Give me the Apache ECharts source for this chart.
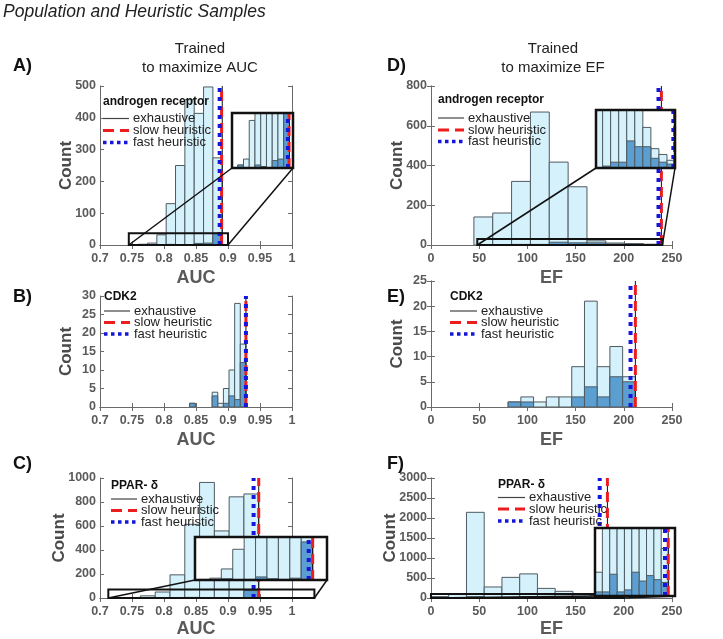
<!DOCTYPE html>
<html><head><meta charset="utf-8">
<script src="https://cdn.jsdelivr.net/npm/echarts@6/dist/echarts.min.js"></script>
<style>html,body{margin:0;padding:0;background:#fff}#c{width:723px;height:639px}</style>
</head><body><div id="c"></div>
<script>
// ---------------- DATA ----------------
// Panel A: androgen receptor, trained to maximize AUC
const edgesA = [0.745, 0.7596, 0.7742, 0.7888, 0.8034, 0.818, 0.8326, 0.8472, 0.8618, 0.8764, 0.891];
const popA   = [0, 2, 6, 32, 130, 250, 457, 414, 497, 274];
const heurA  = [0, 2, 0, 0, 2, 1, 0, 5, 6, 37];
const linesA = [0.891, 0.890, 0.887];          // exhaustive, slow heuristic, fast heuristic
// Panel B: CDK2, AUC
const edgesB = [0.84, 0.8488, 0.8576, 0.8664, 0.8752, 0.884, 0.8928, 0.9016, 0.9104, 0.9192, 0.928];
const popB   = [1, 0, 0, 0, 4, 1, 5, 10, 28, 17];
const heurB  = [1, 0, 0, 0, 3, 0, 1, 3, 2, 12];
const linesB = [0.928, 0.928, 0.928];
// Panel C: PPAR-delta, AUC
const edgesC = [0.717, 0.7401, 0.7632, 0.7863, 0.8094, 0.8325, 0.8556, 0.8787, 0.9018, 0.9249, 0.948];
const popC   = [1, 3, 18, 50, 193, 614, 963, 559, 843, 867];
const heurC  = [0, 0, 2, 0, 1, 5, 2, 1, 3, 62];
const linesC = [0.948, 0.948, 0.940];
// Panel D: androgen receptor, trained to maximize EF
const edgesD = [44.5, 64.05, 83.6, 103.15, 122.7, 142.25, 161.8, 181.35, 200.9, 220.45, 240];
const popD   = [141, 161, 320, 669, 417, 293, 21, 10, 7, 4];
const heurD  = [0, 1, 3, 3, 14, 11, 11, 5, 3, 2];
const linesD = [239, 239, 236];
// Panel E: CDK2, EF
const edgesE = [80, 93.2, 106.4, 119.6, 132.8, 146, 159.2, 172.4, 185.6, 198.8, 212];
const popE   = [1, 2, 1, 2, 2, 8, 21, 8, 12, 6];
const heurE  = [1, 1, 0, 0, 0, 2, 4, 2, 6, 5];
const linesE = [212, 212, 207];
// Panel F: PPAR-delta, EF
const edgesF = [0, 18.4, 36.8, 55.2, 73.6, 92, 110.4, 128.8, 147.2, 165.6, 184];
const popF   = [35, 110, 2142, 276, 516, 603, 240, 167, 105, 70];
const heurF  = [6, 6, 32, 6, 9, 35, 22, 30, 24, 20];
const linesF = [183, 183, 175];
// zoom boxes drawn on the main plots [xmin, xmax, ymax] and ranges shown in the insets
const boxA = [0.745, 0.9, 37],   viewA = [0.745, 0.9, 37];
const boxC = [0.713, 1.035, 70], viewC = [0.71, 0.977, 70];
const boxD = [48, 240, 30],      viewD = [48, 240, 30];
const boxF = [0, 200, 100],      viewF = [0, 200, 100];

const seriesNames = ['exhaustive', 'slow heuristic', 'fast heuristic'];
const targets = ['androgen receptor', 'CDK2', 'PPAR- \u03b4'];

// ---------------- LAYOUT / STYLE ----------------
const FONT = 'Liberation Sans, Arial, Helvetica, sans-serif';
const LIGHT = '#d5f1fb', DARK = '#5b9ed2', EDGE = '#4f5b61';
const lineStyles = [
  {color: '#111', width: 1, type: 'solid'},
  {color: '#ee1d1d', width: 3, type: [10, 6]},
  {color: '#1515dc', width: 4, type: [4, 5]}
];
const legDash = [null, [11, 6], [3.5, 3.5]];
const legWidth = [1.2, 3, 3.5];

const panels = [
  {tag:'A)', t:0, edges:edgesA, pop:popA, heur:heurA, lines:linesA, x:[0.7,1,0.05], y:[0,500,100], xname:'AUC',
   grid:{left:100, top:86, width:192, height:159}, box:boxA, view:viewA, inset:{left:232, top:113, width:61, height:55},
   leg:{x:103, ty:102, iy:[118.5, 130.5, 142.5], iw:26}},
  {tag:'B)', t:1, edges:edgesB, pop:popB, heur:heurB, lines:linesB, x:[0.7,1,0.05], y:[0,30,5], xname:'AUC',
   grid:{left:100, top:296, width:192, height:111}, box:null,
   leg:{x:104, ty:297, iy:[311, 322.5, 334], iw:26}},
  {tag:'C)', t:2, edges:edgesC, pop:popC, heur:heurC, lines:linesC, x:[0.7,1,0.05], y:[0,1000,200], xname:'AUC',
   grid:{left:100, top:478, width:192, height:127}, box:boxC, view:viewC, inset:{left:195, top:537, width:132, height:43},
   leg:{x:111, ty:486, iy:[499, 510.5, 522], iw:26}},
  {tag:'D)', t:0, edges:edgesD, pop:popD, heur:heurD, lines:linesD, x:[0,250,50], y:[0,800,200], xname:'EF',
   grid:{left:431, top:86, width:241, height:159}, box:boxD, view:viewD, inset:{left:596, top:110, width:79, height:58},
   leg:{x:438, ty:100, iy:[118, 130, 141.5], iw:26}},
  {tag:'E)', t:1, edges:edgesE, pop:popE, heur:heurE, lines:linesE, x:[0,250,50], y:[0,25,5], xname:'EF',
   grid:{left:431, top:281, width:241, height:126}, box:null,
   leg:{x:450, ty:297, iy:[311, 322.5, 334], iw:27}},
  {tag:'F)', t:2, edges:edgesF, pop:popF, heur:heurF, lines:linesF, x:[0,250,50], y:[0,3000,500], xname:'EF',
   grid:{left:431, top:478, width:241, height:127}, box:boxF, view:viewF, inset:{left:595, top:528, width:80, height:68},
   leg:{x:498, ty:485, iy:[497.5, 509, 521], iw:27}}
];

function histData(edges, counts) {
  return counts.map((c, i) => [edges[i], edges[i + 1], c]);
}
function histRender(fill) {
  return function (params, api) {
    const c = api.value(2);
    if (!c) return null;
    const p0 = api.coord([api.value(0), 0]);
    const p1 = api.coord([api.value(1), c]);
    return {type: 'rect', shape: {x: p0[0], y: p1[1], width: p1[0] - p0[0], height: p0[1] - p1[1]},
            style: {fill: fill, stroke: EDGE, lineWidth: 1}};
  };
}

const grid = [], xAxis = [], yAxis = [], series = [];
const axisCol = '#6a6a6a';
const lblStyle = {fontFamily: FONT, fontSize: 12.5, fontWeight: 'bold', color: '#5a5a5a'};

panels.forEach((p, k) => {
  grid.push(Object.assign({containLabel: false}, p.grid));
  const xi = xAxis.length, yi = yAxis.length;
  const big = p.y[1] >= 1000;
  xAxis.push({gridIndex: k, type: 'value', min: p.x[0], max: p.x[1], interval: p.x[2], position: 'bottom',
    name: p.xname, nameLocation: 'middle', nameGap: big ? 22 : 24, nameMoveOverlap: false,
    nameTextStyle: {fontFamily: FONT, fontSize: 18, fontWeight: 'bold', color: '#5a5a5a'},
    axisLine: {lineStyle: {color: axisCol}}, axisTick: {inside: true, length: 4, lineStyle: {color: axisCol}},
    axisLabel: Object.assign({margin: 7, formatter: v => String(v)}, lblStyle), splitLine: {show: false}});
  xAxis.push({gridIndex: k, type: 'value', min: p.x[0], max: p.x[1], interval: p.x[2], position: 'top',
    axisLine: {show: true, lineStyle: {color: axisCol}}, axisTick: {inside: true, length: 4, lineStyle: {color: axisCol}},
    axisLabel: {show: false}, splitLine: {show: false}});
  yAxis.push({gridIndex: k, type: 'value', min: p.y[0], max: p.y[1], interval: p.y[2], position: 'left',
    name: 'Count', nameLocation: 'middle', nameGap: big ? 32 : 25, nameMoveOverlap: false,
    nameTextStyle: {fontFamily: FONT, fontSize: 17, fontWeight: 'bold', color: '#4a4a4a'},
    axisLine: {show: true, lineStyle: {color: axisCol}}, axisTick: {show: true, inside: true, length: 4, lineStyle: {color: axisCol}},
    axisLabel: Object.assign({margin: 4, formatter: v => String(v)}, lblStyle), splitLine: {show: false}});
  yAxis.push({gridIndex: k, type: 'value', min: p.y[0], max: p.y[1], interval: p.y[2], position: 'right',
    axisLine: {show: true, lineStyle: {color: axisCol}}, axisTick: {show: true, inside: true, length: 4, lineStyle: {color: axisCol}},
    axisLabel: {show: false}, splitLine: {show: false}});

  series.push({type: 'custom', name: 'population', xAxisIndex: xi, yAxisIndex: yi, clip: true, z: 2,
    renderItem: histRender(LIGHT), encode: {x: [0, 1], y: 2}, data: histData(p.edges, p.pop), silent: true});
  series.push({type: 'custom', name: 'heuristic samples', xAxisIndex: xi, yAxisIndex: yi, clip: true, z: 3,
    renderItem: histRender(DARK), encode: {x: [0, 1], y: 2}, data: histData(p.edges, p.heur), silent: true});
  p.lines.forEach((v, j) => {
    series.push({type: 'line', name: seriesNames[j], xAxisIndex: xi, yAxisIndex: yi, z: 4 + j,
      symbol: 'none', silent: true, lineStyle: lineStyles[j], itemStyle: {color: lineStyles[j].color},
      data: [[v, p.y[0]], [v, p.y[1]]]});
  });
  if (p.box) {
    series.push({type: 'custom', name: 'zoom box', xAxisIndex: xi, yAxisIndex: yi, clip: false, z: 8, silent: true,
      renderItem: function (params, api) {
        const a = api.coord([api.value(0), 0]), b = api.coord([api.value(1), api.value(2)]);
        return {type: 'rect', shape: {x: a[0], y: b[1], width: b[0] - a[0], height: a[1] - b[1]},
                style: {fill: null, stroke: '#111', lineWidth: 2}};
      }, encode: {x: [0, 1], y: 2}, data: [[p.box[0], p.box[1], p.box[2]]]});
  }
});

// inset grids
panels.forEach((p, k) => {
  if (!p.box) return;
  const gi = grid.length;
  grid.push(Object.assign({show: true, backgroundColor: '#fff', borderWidth: 0, z: 20}, p.inset));
  const xi = xAxis.length, yi = yAxis.length;
  xAxis.push({gridIndex: gi, type: 'value', min: p.view[0], max: p.view[1], show: false, z: 20});
  yAxis.push({gridIndex: gi, type: 'value', min: 0, max: p.view[2], show: false, z: 20});
  p.gi = gi;
  series.push({type: 'custom', name: 'population', xAxisIndex: xi, yAxisIndex: yi, clip: true, z: 21,
    renderItem: histRender(LIGHT), encode: {x: [0, 1], y: 2}, data: histData(p.edges, p.pop), silent: true});
  series.push({type: 'custom', name: 'heuristic samples', xAxisIndex: xi, yAxisIndex: yi, clip: true, z: 22,
    renderItem: histRender(DARK), encode: {x: [0, 1], y: 2}, data: histData(p.edges, p.heur), silent: true});
  p.lines.forEach((v, j) => {
    series.push({type: 'line', name: seriesNames[j], xAxisIndex: xi, yAxisIndex: yi, z: 23 + j, clip: true,
      symbol: 'none', silent: true, lineStyle: lineStyles[j], itemStyle: {color: lineStyles[j].color},
      data: [[v, 0], [v, p.view[2]]]});
  });
});

const chart = echarts.init(document.getElementById('c'), null, {renderer: 'canvas'});
chart.setOption({backgroundColor: '#fff', animation: false, grid, xAxis, yAxis, series});

// ---------------- annotations: texts, legends, zoom connectors ----------------
const g = [];
g.push({type: 'text', z: 100, x: 3, y: 3, style: {text: 'Population and Heuristic Samples', font: 'italic 17.5px ' + FONT, fill: '#222'}});
g.push({type: 'text', z: 100, x: 200, y: 39, style: {text: 'Trained\nto maximize AUC', font: '15px ' + FONT, fill: '#222', align: 'center', lineHeight: 19}});
g.push({type: 'text', z: 100, x: 553, y: 39, style: {text: 'Trained\nto maximize EF', font: '15px ' + FONT, fill: '#222', align: 'center', lineHeight: 19}});
panels.forEach((p, k) => {
  const tx = k < 3 ? 13 : 387;
  const ty = [57, 288, 455][k % 3];
  g.push({type: 'text', z: 100, x: tx, y: ty, style: {text: p.tag, font: 'bold 18px ' + FONT, fill: '#111'}});
  // legend block
  const L = p.leg;
  g.push({type: 'text', z: 100, x: L.x, y: L.ty, style: {text: targets[p.t], font: 'bold 12px ' + FONT, fill: '#111', verticalAlign: 'middle'}});
  seriesNames.forEach((nm, j) => {
    const y = L.iy[j];
    g.push({type: 'line', z: 100, shape: {x1: L.x, y1: y, x2: L.x + L.iw, y2: y},
      style: {stroke: j === 0 ? '#444' : lineStyles[j].color, lineWidth: legWidth[j], lineDash: legDash[j]}});
    g.push({type: 'text', z: 100, x: L.x + L.iw + 4, y: y, style: {text: nm, font: '13px ' + FONT, fill: '#222', verticalAlign: 'middle'}});
  });
  if (p.box) {
    const bl = chart.convertToPixel({gridIndex: k}, [p.box[0], 0]);
    const br = chart.convertToPixel({gridIndex: k}, [p.box[1], 0]);
    const ibl = chart.convertToPixel({gridIndex: p.gi}, [p.view[0], 0]);
    const ibr = chart.convertToPixel({gridIndex: p.gi}, [p.view[1], 0]);
    const itl = chart.convertToPixel({gridIndex: p.gi}, [p.view[0], p.view[2]]);
    g.push({type: 'line', z: 30, shape: {x1: bl[0], y1: bl[1], x2: ibl[0], y2: ibl[1]}, style: {stroke: '#111', lineWidth: 1.5}});
    g.push({type: 'line', z: 30, shape: {x1: br[0], y1: br[1], x2: ibr[0], y2: ibr[1]}, style: {stroke: '#111', lineWidth: 1.5}});
    g.push({type: 'rect', z: 30, shape: {x: itl[0], y: itl[1], width: ibr[0] - itl[0], height: ibr[1] - itl[1]},
            style: {fill: null, stroke: '#111', lineWidth: 2.5}});
  }
});
chart.setOption({graphic: g});
</script>
</body></html>
